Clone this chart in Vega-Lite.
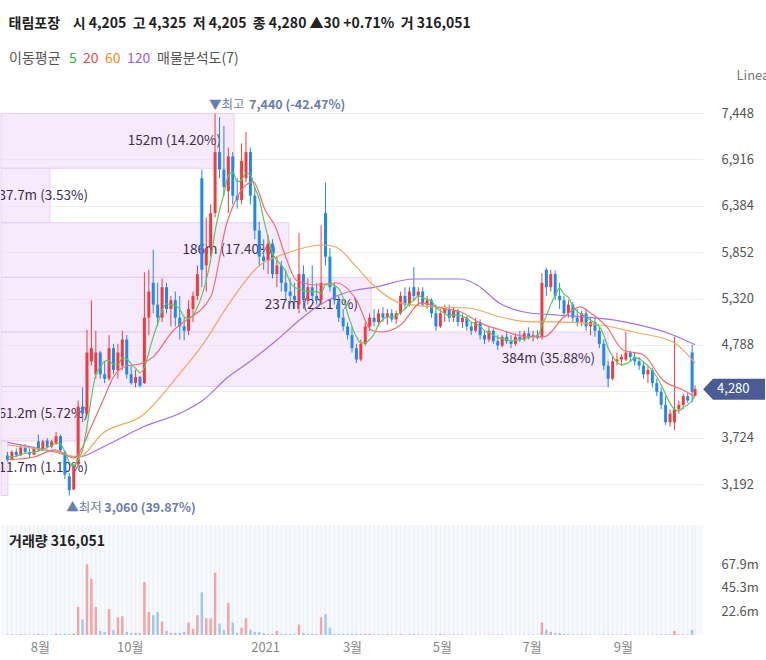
{
"$schema": "https://vega.github.io/schema/vega-lite/v6.json",
"padding": {"left": 0, "top": 17, "right": 0, "bottom": 0},
"background": "white",
"config": {"font": "Noto Sans CJK KR", "view": {"stroke": null}},
"title": {"text": "태림포장\u00a0\u00a0\u00a0 시 4,205\u00a0 고 4,325\u00a0 저 4,205\u00a0 종 4,280 ▲30 +0.71%\u00a0 거 316,051", "anchor": "start", "dx": 8, "fontSize": 14, "fontWeight": "bold", "color": "#222", "offset": 13},
"datasets": {
"k": [
{"d":"2020-07-10","o":3520,"h":3560,"l":3450,"c":3470,"v":0.5,"m":3500},
{"d":"2020-07-13","o":3470,"h":3580,"l":3460,"c":3560,"v":0.6,"m":3505},
{"d":"2020-07-16","o":3560,"h":3600,"l":3500,"c":3520,"v":0.4,"m":3510},
{"d":"2020-07-19","o":3520,"h":3640,"l":3510,"c":3610,"v":0.8,"m":3530},
{"d":"2020-07-22","o":3610,"h":3650,"l":3540,"c":3560,"v":0.5,"m":3545},
{"d":"2020-07-25","o":3560,"h":3600,"l":3500,"c":3530,"v":0.4,"m":3550},
{"d":"2020-07-28","o":3530,"h":3620,"l":3520,"c":3600,"v":0.7,"m":3560},
{"d":"2020-07-31","o":3680,"h":3760,"l":3560,"c":3580,"v":1.2,"m":3570},
{"d":"2020-08-03","o":3580,"h":3700,"l":3570,"c":3680,"v":0.8,"m":3590},
{"d":"2020-08-06","o":3690,"h":3720,"l":3600,"c":3620,"v":0.6,"m":3610},
{"d":"2020-08-09","o":3620,"h":3700,"l":3600,"c":3680,"v":0.5,"m":3630},
{"d":"2020-08-12","o":3660,"h":3790,"l":3640,"c":3740,"v":1.5,"m":3660},
{"d":"2020-08-15","o":3740,"h":3760,"l":3560,"c":3580,"v":1.0,"m":3650},
{"d":"2020-08-18","o":3560,"h":3580,"l":3250,"c":3300,"v":1.2,"m":3560},
{"d":"2020-08-21","o":3280,"h":3320,"l":3060,"c":3120,"v":1.0,"m":3440},
{"d":"2020-08-24","o":3130,"h":3420,"l":3120,"c":3380,"v":1.5,"m":3400},
{"d":"2020-08-27","o":3420,"h":4150,"l":3400,"c":4080,"v":27,"m":3480},
{"d":"2020-08-30","o":4080,"h":4300,"l":3900,"c":4000,"v":15,"m":3580},
{"d":"2020-09-02","o":4000,"h":4960,"l":3980,"c":4700,"v":68,"m":3850},
{"d":"2020-09-05","o":4600,"h":5300,"l":4550,"c":4750,"v":54,"m":4180},
{"d":"2020-09-08","o":4450,"h":4950,"l":4400,"c":4700,"v":27,"m":4450},
{"d":"2020-09-11","o":4700,"h":4720,"l":4400,"c":4450,"v":4,"m":4530},
{"d":"2020-09-14","o":4450,"h":4600,"l":4350,"c":4400,"v":3,"m":4600},
{"d":"2020-09-17","o":4400,"h":4900,"l":4380,"c":4750,"v":25,"m":4610},
{"d":"2020-09-20","o":4750,"h":4800,"l":4450,"c":4500,"v":5,"m":4560},
{"d":"2020-09-23","o":4500,"h":4800,"l":4400,"c":4700,"v":17,"m":4560},
{"d":"2020-09-26","o":4550,"h":4950,"l":4500,"c":4850,"v":18,"m":4640},
{"d":"2020-09-29","o":4850,"h":4900,"l":4400,"c":4450,"v":3,"m":4630},
{"d":"2020-10-02","o":4450,"h":4550,"l":4330,"c":4350,"v":2,"m":4570},
{"d":"2020-10-05","o":4350,"h":4500,"l":4300,"c":4420,"v":2,"m":4520},
{"d":"2020-10-08","o":4420,"h":4430,"l":4300,"c":4320,"v":2,"m":4470},
{"d":"2020-10-11","o":4350,"h":5620,"l":4340,"c":5100,"v":51,"m":4530},
{"d":"2020-10-14","o":5100,"h":5650,"l":4900,"c":5400,"v":22,"m":4700},
{"d":"2020-10-17","o":5500,"h":5880,"l":5150,"c":5250,"v":19,"m":4880},
{"d":"2020-10-20","o":5250,"h":5500,"l":5000,"c":5100,"v":22,"m":5030},
{"d":"2020-10-23","o":5100,"h":5550,"l":5050,"c":5450,"v":13,"m":5180},
{"d":"2020-10-26","o":5450,"h":5500,"l":5150,"c":5200,"v":4,"m":5260},
{"d":"2020-10-29","o":5200,"h":5350,"l":5000,"c":5300,"v":2,"m":5250},
{"d":"2020-11-01","o":5300,"h":5400,"l":5000,"c":5100,"v":2,"m":5240},
{"d":"2020-11-04","o":5100,"h":5350,"l":4850,"c":5000,"v":2,"m":5200},
{"d":"2020-11-07","o":5000,"h":5100,"l":4840,"c":4950,"v":3,"m":5110},
{"d":"2020-11-10","o":4950,"h":5300,"l":4900,"c":5200,"v":12,"m":5090},
{"d":"2020-11-13","o":5200,"h":5400,"l":5050,"c":5350,"v":6,"m":5120},
{"d":"2020-11-16","o":5350,"h":5700,"l":5300,"c":5600,"v":19,"m":5220},
{"d":"2020-11-19","o":6700,"h":6800,"l":5450,"c":5650,"v":41,"m":5350},
{"d":"2020-11-22","o":5700,"h":6250,"l":5400,"c":5900,"v":16,"m":5530},
{"d":"2020-11-25","o":5900,"h":6400,"l":5800,"c":6300,"v":16,"m":5760},
{"d":"2020-11-28","o":6300,"h":7440,"l":6250,"c":7000,"v":60,"m":6090},
{"d":"2020-12-01","o":7000,"h":7400,"l":6700,"c":6800,"v":11,"m":6330},
{"d":"2020-12-04","o":6800,"h":7300,"l":6500,"c":6600,"v":5,"m":6520},
{"d":"2020-12-07","o":6550,"h":7050,"l":6300,"c":6950,"v":31,"m":6730},
{"d":"2020-12-10","o":6950,"h":7000,"l":6400,"c":6500,"v":12,"m":6770},
{"d":"2020-12-13","o":6500,"h":6700,"l":6350,"c":6450,"v":2,"m":6660},
{"d":"2020-12-16","o":6450,"h":7100,"l":6400,"c":6900,"v":7,"m":6680},
{"d":"2020-12-19","o":6700,"h":7230,"l":6650,"c":7000,"v":16,"m":6760},
{"d":"2020-12-22","o":7000,"h":7050,"l":6400,"c":6500,"v":5,"m":6740},
{"d":"2020-12-25","o":6500,"h":6600,"l":6000,"c":6100,"v":3,"m":6590},
{"d":"2020-12-28","o":6100,"h":6200,"l":5700,"c":5800,"v":3,"m":6460},
{"d":"2020-12-31","o":5800,"h":6000,"l":5650,"c":5750,"v":2,"m":6230},
{"d":"2021-01-03","o":5750,"h":6050,"l":5600,"c":5950,"v":1,"m":6020},
{"d":"2021-01-06","o":5950,"h":6000,"l":5550,"c":5600,"v":1,"m":5840},
{"d":"2021-01-09","o":5600,"h":5800,"l":5450,"c":5700,"v":4,"m":5760},
{"d":"2021-01-12","o":5700,"h":5750,"l":5400,"c":5500,"v":1,"m":5700},
{"d":"2021-01-15","o":5500,"h":5650,"l":5300,"c":5400,"v":1,"m":5630},
{"d":"2021-01-18","o":5400,"h":5550,"l":5250,"c":5350,"v":1,"m":5510},
{"d":"2021-01-21","o":5350,"h":5500,"l":5200,"c":5300,"v":1,"m":5450},
{"d":"2021-01-24","o":5250,"h":6070,"l":5150,"c":5600,"v":10,"m":5430},
{"d":"2021-01-27","o":5600,"h":5700,"l":5200,"c":5300,"v":2,"m":5410},
{"d":"2021-01-30","o":5300,"h":5550,"l":5250,"c":5450,"v":1,"m":5400},
{"d":"2021-02-02","o":5450,"h":5700,"l":5300,"c":5350,"v":1,"m":5400},
{"d":"2021-02-05","o":5350,"h":5500,"l":5250,"c":5300,"v":1,"m":5400},
{"d":"2021-02-08","o":5300,"h":6160,"l":5250,"c":5500,"v":17,"m":5380},
{"d":"2021-02-11","o":6300,"h":6650,"l":5700,"c":5800,"v":20,"m":5480},
{"d":"2021-02-14","o":5800,"h":5900,"l":5400,"c":5450,"v":7,"m":5480},
{"d":"2021-02-17","o":5450,"h":5500,"l":5250,"c":5300,"v":1,"m":5470},
{"d":"2021-02-20","o":5300,"h":5350,"l":5050,"c":5100,"v":1,"m":5430},
{"d":"2021-02-23","o":5100,"h":5200,"l":4950,"c":5000,"v":1,"m":5330},
{"d":"2021-02-26","o":5000,"h":5050,"l":4850,"c":4900,"v":1,"m":5150},
{"d":"2021-03-01","o":4900,"h":5000,"l":4700,"c":4750,"v":1,"m":5000},
{"d":"2021-03-04","o":4750,"h":4800,"l":4580,"c":4620,"v":1,"m":4880},
{"d":"2021-03-07","o":4620,"h":4850,"l":4600,"c":4800,"v":1,"m":4810},
{"d":"2021-03-10","o":4800,"h":5050,"l":4780,"c":5000,"v":1,"m":4810},
{"d":"2021-03-13","o":5000,"h":5150,"l":4950,"c":5100,"v":1,"m":4850},
{"d":"2021-03-16","o":5100,"h":5200,"l":5000,"c":5050,"v":0.5,"m":4910},
{"d":"2021-03-19","o":5050,"h":5200,"l":5000,"c":5150,"v":0.5,"m":5020},
{"d":"2021-03-22","o":5150,"h":5220,"l":5050,"c":5100,"v":0.5,"m":5080},
{"d":"2021-03-25","o":5100,"h":5200,"l":5020,"c":5150,"v":0.8,"m":5110},
{"d":"2021-03-28","o":5150,"h":5200,"l":5050,"c":5080,"v":0.4,"m":5110},
{"d":"2021-03-31","o":5080,"h":5180,"l":5030,"c":5150,"v":0.5,"m":5120},
{"d":"2021-04-03","o":5150,"h":5400,"l":5130,"c":5350,"v":1,"m":5160},
{"d":"2021-04-06","o":5350,"h":5450,"l":5200,"c":5250,"v":0.5,"m":5200},
{"d":"2021-04-09","o":5250,"h":5450,"l":5230,"c":5400,"v":0.8,"m":5260},
{"d":"2021-04-12","o":5450,"h":5680,"l":5300,"c":5350,"v":1,"m":5300},
{"d":"2021-04-15","o":5350,"h":5450,"l":5250,"c":5400,"v":0.5,"m":5350},
{"d":"2021-04-18","o":5400,"h":5450,"l":5230,"c":5250,"v":0.4,"m":5330},
{"d":"2021-04-21","o":5250,"h":5350,"l":5200,"c":5300,"v":0.4,"m":5310},
{"d":"2021-04-24","o":5300,"h":5320,"l":5100,"c":5150,"v":0.4,"m":5290},
{"d":"2021-04-27","o":5150,"h":5250,"l":4950,"c":5000,"v":0.6,"m":5220},
{"d":"2021-04-30","o":5000,"h":5200,"l":4980,"c":5150,"v":1,"m":5180},
{"d":"2021-05-03","o":5150,"h":5250,"l":5050,"c":5200,"v":0.5,"m":5150},
{"d":"2021-05-06","o":5200,"h":5250,"l":5050,"c":5100,"v":0.4,"m":5120},
{"d":"2021-05-09","o":5100,"h":5220,"l":5050,"c":5180,"v":0.4,"m":5130},
{"d":"2021-05-12","o":5180,"h":5200,"l":5000,"c":5050,"v":0.4,"m":5130},
{"d":"2021-05-15","o":5050,"h":5150,"l":4980,"c":5100,"v":0.4,"m":5120},
{"d":"2021-05-18","o":5100,"h":5120,"l":4950,"c":5000,"v":0.3,"m":5090},
{"d":"2021-05-21","o":5000,"h":5050,"l":4900,"c":4950,"v":0.3,"m":5050},
{"d":"2021-05-24","o":4950,"h":5100,"l":4930,"c":5050,"v":0.3,"m":5030},
{"d":"2021-05-27","o":5050,"h":5080,"l":4850,"c":4900,"v":0.3,"m":5000},
{"d":"2021-05-30","o":4900,"h":4950,"l":4800,"c":4850,"v":0.3,"m":4950},
{"d":"2021-06-02","o":4850,"h":5000,"l":4820,"c":4950,"v":0.4,"m":4930},
{"d":"2021-06-05","o":4950,"h":4980,"l":4800,"c":4830,"v":0.3,"m":4900},
{"d":"2021-06-08","o":4830,"h":4900,"l":4730,"c":4780,"v":0.3,"m":4870},
{"d":"2021-06-11","o":4780,"h":4900,"l":4760,"c":4880,"v":0.4,"m":4860},
{"d":"2021-06-14","o":4880,"h":4950,"l":4800,"c":4830,"v":0.3,"m":4850},
{"d":"2021-06-17","o":4830,"h":4900,"l":4750,"c":4800,"v":0.3,"m":4830},
{"d":"2021-06-20","o":4800,"h":4920,"l":4780,"c":4880,"v":0.3,"m":4840},
{"d":"2021-06-23","o":4880,"h":4950,"l":4820,"c":4850,"v":0.3,"m":4850},
{"d":"2021-06-26","o":4850,"h":4950,"l":4830,"c":4920,"v":0.3,"m":4860},
{"d":"2021-06-29","o":4920,"h":4990,"l":4850,"c":4880,"v":0.3,"m":4870},
{"d":"2021-07-02","o":4880,"h":4950,"l":4830,"c":4900,"v":0.4,"m":4890},
{"d":"2021-07-05","o":4900,"h":4960,"l":4850,"c":4870,"v":0.5,"m":4890},
{"d":"2021-07-08","o":4880,"h":5610,"l":4850,"c":5500,"v":12,"m":5010},
{"d":"2021-07-11","o":5650,"h":5670,"l":5350,"c":5450,"v":5,"m":5120},
{"d":"2021-07-14","o":5450,"h":5650,"l":5400,"c":5600,"v":3,"m":5250},
{"d":"2021-07-17","o":5600,"h":5640,"l":5300,"c":5350,"v":2,"m":5360},
{"d":"2021-07-20","o":5350,"h":5500,"l":5200,"c":5300,"v":2,"m":5440},
{"d":"2021-07-23","o":5300,"h":5350,"l":5100,"c":5150,"v":1,"m":5370},
{"d":"2021-07-26","o":5150,"h":5300,"l":5100,"c":5250,"v":0.5,"m":5330},
{"d":"2021-07-29","o":5250,"h":5280,"l":5050,"c":5100,"v":0.5,"m":5230},
{"d":"2021-08-01","o":5100,"h":5200,"l":5000,"c":5050,"v":0.4,"m":5170},
{"d":"2021-08-04","o":5050,"h":5180,"l":5000,"c":5150,"v":0.4,"m":5140},
{"d":"2021-08-07","o":5150,"h":5190,"l":4950,"c":5000,"v":0.4,"m":5110},
{"d":"2021-08-10","o":5000,"h":5100,"l":4900,"c":5050,"v":0.4,"m":5070},
{"d":"2021-08-13","o":5050,"h":5100,"l":4880,"c":4950,"v":0.3,"m":5040},
{"d":"2021-08-16","o":4950,"h":5000,"l":4750,"c":4800,"v":0.4,"m":5000},
{"d":"2021-08-19","o":4800,"h":4850,"l":4500,"c":4550,"v":0.5,"m":4900},
{"d":"2021-08-22","o":4550,"h":4600,"l":4300,"c":4400,"v":0.6,"m":4750},
{"d":"2021-08-25","o":4400,"h":4650,"l":4380,"c":4600,"v":0.5,"m":4660},
{"d":"2021-08-28","o":4600,"h":4700,"l":4550,"c":4620,"v":0.3,"m":4590},
{"d":"2021-08-31","o":4620,"h":4680,"l":4550,"c":4650,"v":0.3,"m":4560},
{"d":"2021-09-03","o":4620,"h":4940,"l":4600,"c":4700,"v":0.8,"m":4570},
{"d":"2021-09-06","o":4700,"h":4720,"l":4600,"c":4650,"v":0.3,"m":4600},
{"d":"2021-09-09","o":4650,"h":4700,"l":4550,"c":4600,"v":0.3,"m":4640},
{"d":"2021-09-12","o":4600,"h":4650,"l":4500,"c":4550,"v":0.3,"m":4630},
{"d":"2021-09-15","o":4550,"h":4600,"l":4400,"c":4450,"v":0.3,"m":4590},
{"d":"2021-09-18","o":4450,"h":4550,"l":4350,"c":4500,"v":0.3,"m":4550},
{"d":"2021-09-21","o":4500,"h":4520,"l":4300,"c":4350,"v":0.3,"m":4490},
{"d":"2021-09-24","o":4350,"h":4400,"l":4200,"c":4250,"v":0.4,"m":4420},
{"d":"2021-09-27","o":4250,"h":4300,"l":4050,"c":4100,"v":0.5,"m":4330},
{"d":"2021-09-30","o":4100,"h":4200,"l":3870,"c":3900,"v":0.6,"m":4220},
{"d":"2021-10-03","o":3900,"h":4050,"l":3850,"c":4000,"v":0.5,"m":4120},
{"d":"2021-10-06","o":3900,"h":4880,"l":3810,"c":4050,"v":4,"m":4050},
{"d":"2021-10-09","o":4050,"h":4150,"l":4000,"c":4100,"v":0.5,"m":4030},
{"d":"2021-10-12","o":4100,"h":4230,"l":4050,"c":4200,"v":0.5,"m":4070},
{"d":"2021-10-15","o":4200,"h":4240,"l":4120,"c":4150,"v":0.4,"m":4100},
{"d":"2021-10-18","o":4700,"h":4790,"l":4130,"c":4250,"v":5,"m":4150},
{"d":"2021-10-20","o":4205,"h":4325,"l":4205,"c":4280,"v":0.3,"m":4200}
],
"ma": [
{"d":"2020-07-10","n":"120","p":3670},{"d":"2020-07-25","n":"120","p":3620},{"d":"2020-08-11","n":"120","p":3560},{"d":"2020-08-27","n":"120","p":3500},{"d":"2020-09-13","n":"120","p":3617},{"d":"2020-10-10","n":"120","p":3846},{"d":"2020-11-06","n":"120","p":4018},{"d":"2020-11-20","n":"120","p":4156},{"d":"2020-12-06","n":"120","p":4408},{"d":"2020-12-23","n":"120","p":4615},{"d":"2021-01-09","n":"120","p":4844},{"d":"2021-01-26","n":"120","p":5097},{"d":"2021-02-05","n":"120","p":5223},{"d":"2021-02-22","n":"120","p":5372},{"d":"2021-03-04","n":"120","p":5418},{"d":"2021-03-14","n":"120","p":5441},{"d":"2021-04-12","n":"120","p":5544},{"d":"2021-05-14","n":"120","p":5544},{"d":"2021-05-25","n":"120","p":5475},{"d":"2021-06-09","n":"120","p":5269},{"d":"2021-06-30","n":"120","p":5154},{"d":"2021-07-18","n":"120","p":5131},{"d":"2021-09-02","n":"120","p":5051},{"d":"2021-10-05","n":"120","p":4902},{"d":"2021-10-20","n":"120","p":4790},
{"d":"2020-07-10","n":"60","p":3640},{"d":"2020-07-28","n":"60","p":3600},{"d":"2020-08-11","n":"60","p":3570},{"d":"2020-08-27","n":"60","p":3500},{"d":"2020-09-13","n":"60","p":3778},{"d":"2020-10-10","n":"60","p":3984},{"d":"2020-11-05","n":"60","p":4480},{"d":"2020-11-20","n":"60","p":4800},{"d":"2020-12-06","n":"60","p":5223},{"d":"2020-12-27","n":"60","p":5682},{"d":"2021-01-16","n":"60","p":5842},{"d":"2021-02-09","n":"60","p":5934},{"d":"2021-02-18","n":"60","p":5911},{"d":"2021-03-04","n":"60","p":5682},{"d":"2021-03-14","n":"60","p":5498},{"d":"2021-04-03","n":"60","p":5269},{"d":"2021-04-26","n":"60","p":5223},{"d":"2021-05-19","n":"60","p":5211},{"d":"2021-06-10","n":"60","p":5108},{"d":"2021-06-30","n":"60","p":5051},{"d":"2021-07-18","n":"60","p":5051},{"d":"2021-08-17","n":"60","p":5016},{"d":"2021-09-08","n":"60","p":4936},{"d":"2021-10-05","n":"60","p":4821},{"d":"2021-10-20","n":"60","p":4580},
{"d":"2020-07-10","n":"20","p":3470},{"d":"2020-07-28","n":"20","p":3502},{"d":"2020-08-11","n":"20","p":3583},{"d":"2020-08-24","n":"20","p":3491},{"d":"2020-09-06","n":"20","p":3892},{"d":"2020-09-13","n":"20","p":4156},{"d":"2020-09-20","n":"20","p":4420},{"d":"2020-09-27","n":"20","p":4535},{"d":"2020-10-10","n":"20","p":4580},{"d":"2020-10-17","n":"20","p":4650},{"d":"2020-10-31","n":"20","p":4959},{"d":"2020-11-05","n":"20","p":5030},{"d":"2020-11-25","n":"20","p":5337},{"d":"2020-12-06","n":"20","p":6186},{"d":"2020-12-24","n":"20","p":6657},{"d":"2021-01-01","n":"20","p":6335},{"d":"2021-01-08","n":"20","p":6140},{"d":"2021-01-15","n":"20","p":5796},{"d":"2021-01-22","n":"20","p":5533},{"d":"2021-02-05","n":"20","p":5475},{"d":"2021-02-18","n":"20","p":5498},{"d":"2021-03-04","n":"20","p":5303},{"d":"2021-03-14","n":"20","p":4959},{"d":"2021-03-21","n":"20","p":4936},{"d":"2021-04-03","n":"20","p":5016},{"d":"2021-04-17","n":"20","p":5269},{"d":"2021-04-30","n":"20","p":5211},{"d":"2021-05-14","n":"20","p":5165},{"d":"2021-05-27","n":"20","p":5040},{"d":"2021-06-10","n":"20","p":4959},{"d":"2021-06-30","n":"20","p":4879},{"d":"2021-07-09","n":"20","p":4879},{"d":"2021-07-23","n":"20","p":5108},{"d":"2021-08-03","n":"20","p":5223},{"d":"2021-08-10","n":"20","p":5154},{"d":"2021-08-21","n":"20","p":4994},{"d":"2021-09-01","n":"20","p":4730},{"d":"2021-09-15","n":"20","p":4672},{"d":"2021-09-28","n":"20","p":4385},{"d":"2021-10-12","n":"20","p":4270},{"d":"2021-10-20","n":"20","p":4190}
],
"vp": [
{"lo":6814,"hi":7440,"mid":7127,"vol":152,"t":"152m (14.20%)"},
{"lo":6189,"hi":6814,"mid":6501,"vol":37.7,"t":"37.7m (3.53%)"},
{"lo":5563,"hi":6189,"mid":5876,"vol":186,"t":"186m (17.40%)"},
{"lo":4937,"hi":5563,"mid":5250,"vol":237,"t":"237m (22.17%)"},
{"lo":4311,"hi":4937,"mid":4624,"vol":384,"t":"384m (35.88%)"},
{"lo":3686,"hi":4311,"mid":3999,"vol":61.2,"t":"61.2m (5.72%)"},
{"lo":3060,"hi":3686,"mid":3373,"vol":11.7,"t":"11.7m (1.10%)"}
]
},
"spacing": 4,
"vconcat": [
{
"width": 702,
"height": 432,
"layer": [
{
"data": {"name": "vp"},
"layer": [
{"mark": {"type": "rect", "fill": "#f1d9fa", "fillOpacity": 0.55, "stroke": "#e6d0f1", "strokeWidth": 1},
 "encoding": {
  "x": {"field": "vol", "type": "quantitative", "scale": {"domain": [7.4, 442.9], "nice": false, "zero": false}, "axis": null},
  "x2": {"datum": 7.4},
  "y": {"field": "lo", "type": "quantitative", "scale": {"domain": [2779, 7735], "nice": false, "zero": false},
        "axis": {"orient": "right", "values": [3192,3724,4256,4788,5320,5852,6384,6916,7448], "labelExpr": "datum.value == 4256 ? '' : format(datum.value, ',')", "grid": true, "gridColor": "#eeeeee", "ticks": false, "domain": false, "labelPadding": 18, "labelFontSize": 13, "labelColor": "#555",
                 "title": "Linear", "titleAngle": 0, "titleAlign": "left", "titleBaseline": "middle", "titleX": 33, "titleY": -13, "titleFontSize": 13, "titleFontWeight": "normal", "titleColor": "#777"}},
  "y2": {"field": "hi"}}},
{"transform": [{"filter": "datum.vol > 70"}],
 "mark": {"type": "text", "align": "right", "baseline": "middle", "dx": -13, "fontSize": 13.5, "color": "#3d2d52"},
 "encoding": {"x": {"field": "vol", "type": "quantitative"}, "y": {"field": "mid", "type": "quantitative"}, "text": {"field": "t"}}},
{"transform": [{"filter": "datum.vol <= 70"}],
 "mark": {"type": "text", "align": "right", "baseline": "middle", "dx": -13, "fontSize": 13.5, "color": "#3d2d52", "clip": true},
 "encoding": {"x": {"datum": 69.4, "type": "quantitative"}, "y": {"field": "mid", "type": "quantitative"}, "text": {"field": "t"}}}
]
},
{
"layer": [
{"data": {"name": "k"}, "mark": {"type": "rule", "strokeWidth": 1},
 "encoding": {
  "x": {"field": "d", "type": "temporal", "scale": {"type": "utc", "domain": [{"year": 2020, "month": 7, "date": 9, "utc": true}, {"year": 2021, "month": 10, "date": 22, "utc": true}]}, "axis": null},
  "y": {"field": "l", "type": "quantitative"}, "y2": {"field": "h"},
  "color": {"condition": {"test": "datum.c >= datum.o", "value": "#f03c3c"}, "value": "#2088ee"}}},
{"data": {"name": "k"}, "mark": {"type": "bar", "size": 3},
 "encoding": {
  "x": {"field": "d", "type": "temporal"},
  "y": {"field": "o", "type": "quantitative"}, "y2": {"field": "c"},
  "color": {"condition": {"test": "datum.c >= datum.o", "value": "#f03c3c"}, "value": "#2088ee"}}},
{"data": {"name": "ma"}, "mark": {"type": "line", "strokeWidth": 1.2, "interpolate": "monotone"},
 "encoding": {
  "x": {"field": "d", "type": "temporal"},
  "y": {"field": "p", "type": "quantitative"},
  "color": {"field": "n", "type": "nominal",
   "scale": {"domain": ["5", "20", "60", "120", "매물분석도(7)"], "range": ["#5cc85c", "#f36d6d", "#f7a55a", "#a66ef4", "#555555"]},
   "legend": {"orient": "top", "direction": "horizontal", "title": "이동평균", "titleOrient": "left", "titleFontSize": 14, "titleFontWeight": "normal", "titleColor": "#555", "titlePadding": -6, "labelFontSize": 14, "labelOffset": 0, "symbolSize": 0, "symbolStrokeWidth": 0, "symbolOpacity": 0, "columnPadding": -8, "gridAlign": "none", "offset": -5, "padding": 8,
     "labelExpr": "datum.value == '매물분석도(7)' ? '\u00a0\u00a0매물분석도(7)' : datum.label",
     "labelColor": {"expr": "datum.value == '5' ? '#2eb82e' : datum.value == '20' ? '#f24a4a' : datum.value == '60' ? '#f08c2c' : datum.value == '120' ? '#9b5cf2' : '#555555'"}}}}},
{"data": {"name": "k"}, "mark": {"type": "line", "strokeWidth": 1.2, "interpolate": "monotone"},
 "encoding": {
  "x": {"field": "d", "type": "temporal"},
  "y": {"field": "m", "type": "quantitative"},
  "color": {"datum": "5", "type": "nominal"}}},
{"data": {"values": [{"d": "2020-11-28", "p": 7440, "t": "▼최고"}]}, "mark": {"type": "text", "align": "left", "baseline": "middle", "dx": -6, "dy": -9, "fontSize": 12.5, "color": "#6a7db3"},
 "encoding": {"x": {"field": "d", "type": "temporal"}, "y": {"field": "p", "type": "quantitative"}, "text": {"field": "t"}}},
{"data": {"values": [{"d": "2020-11-28", "p": 7440, "t": "7,440 (-42.47%)"}]}, "mark": {"type": "text", "align": "left", "baseline": "middle", "dx": 34, "dy": -9, "fontSize": 12.5, "fontWeight": "bold", "color": "#6a7db3"},
 "encoding": {"x": {"field": "d", "type": "temporal"}, "y": {"field": "p", "type": "quantitative"}, "text": {"field": "t"}}},
{"data": {"values": [{"d": "2020-08-21", "p": 3060, "t": "▲최저"}]}, "mark": {"type": "text", "align": "left", "baseline": "middle", "dx": -3, "dy": 12, "fontSize": 12.5, "color": "#6a7db3"},
 "encoding": {"x": {"field": "d", "type": "temporal"}, "y": {"field": "p", "type": "quantitative"}, "text": {"field": "t"}}},
{"data": {"values": [{"d": "2020-08-21", "p": 3060, "t": "3,060 (39.87%)"}]}, "mark": {"type": "text", "align": "left", "baseline": "middle", "dx": 35, "dy": 12, "fontSize": 12.5, "fontWeight": "bold", "color": "#6a7db3"},
 "encoding": {"x": {"field": "d", "type": "temporal"}, "y": {"field": "p", "type": "quantitative"}, "text": {"field": "t"}}},
{"data": {"values": [{"d": "2021-10-20", "p": 4280, "t": "4,280"}]}, "mark": {"type": "point", "shape": "M0.8,0L1.8,-1.05L7,-1.05L7,1.05L1.8,1.05Z", "size": 400, "filled": true, "color": "#4a5b95", "opacity": 1, "strokeWidth": 0},
 "encoding": {"x": {"field": "d", "type": "temporal"}, "y": {"field": "p", "type": "quantitative"}}},
{"data": {"values": [{"d": "2021-10-20", "p": 4280, "t": "4,280"}]}, "mark": {"type": "text", "align": "left", "baseline": "middle", "dx": 22, "fontSize": 13, "color": "white"},
 "encoding": {"x": {"field": "d", "type": "temporal"}, "y": {"field": "p", "type": "quantitative"}, "text": {"field": "t"}}}
]
}
],
"resolve": {"scale": {"x": "independent"}, "axis": {"x": "independent"}}
},
{
"width": 702,
"height": 110,
"view": {"fill": "#f7f9fc", "stroke": null},
"title": {"text": "거래량 316,051", "anchor": "start", "dx": 8, "offset": -24, "fontSize": 14, "fontWeight": "bold", "color": "#222"},
"data": {"name": "k"},
"layer": [
{"mark": {"type": "rule", "color": "#e9eef6", "strokeWidth": 1},
 "encoding": {
  "x": {"field": "d", "type": "temporal", "scale": {"type": "utc", "domain": [{"year": 2020, "month": 7, "date": 9, "utc": true}, {"year": 2021, "month": 10, "date": 22, "utc": true}]},
   "axis": {"values": [{"year": 2020, "month": 8, "date": 1, "utc": true}, {"year": 2020, "month": 10, "date": 1, "utc": true}, {"year": 2021, "month": 1, "date": 1, "utc": true}, {"year": 2021, "month": 3, "date": 1, "utc": true}, {"year": 2021, "month": 5, "date": 1, "utc": true}, {"year": 2021, "month": 7, "date": 1, "utc": true}, {"year": 2021, "month": 9, "date": 1, "utc": true}],
     "labelExpr": "utcmonth(datum.value) == 0 ? utcFormat(datum.value, '%Y') : (utcmonth(datum.value) + 1) + '월'",
     "grid": false, "ticks": false, "domain": false, "title": null, "labelPadding": 6, "labelFontSize": 13, "labelColor": "#888"}}}},
{"mark": {"type": "bar", "size": 2.5},
 "encoding": {
  "x": {"field": "d", "type": "temporal"},
  "y": {"field": "v", "type": "quantitative", "scale": {"domain": [0, 105.8], "nice": false},
   "axis": {"orient": "right", "values": [22.6, 45.3, 67.9], "labelExpr": "format(datum.value, '.1f') + 'm'", "grid": false, "ticks": false, "domain": false, "title": null, "labelPadding": 18, "labelFontSize": 13, "labelColor": "#555"}},
  "color": {"condition": {"test": "datum.c >= datum.o", "value": "#f6a3a3"}, "value": "#9dc9f6"}}}
]
}
]
}
